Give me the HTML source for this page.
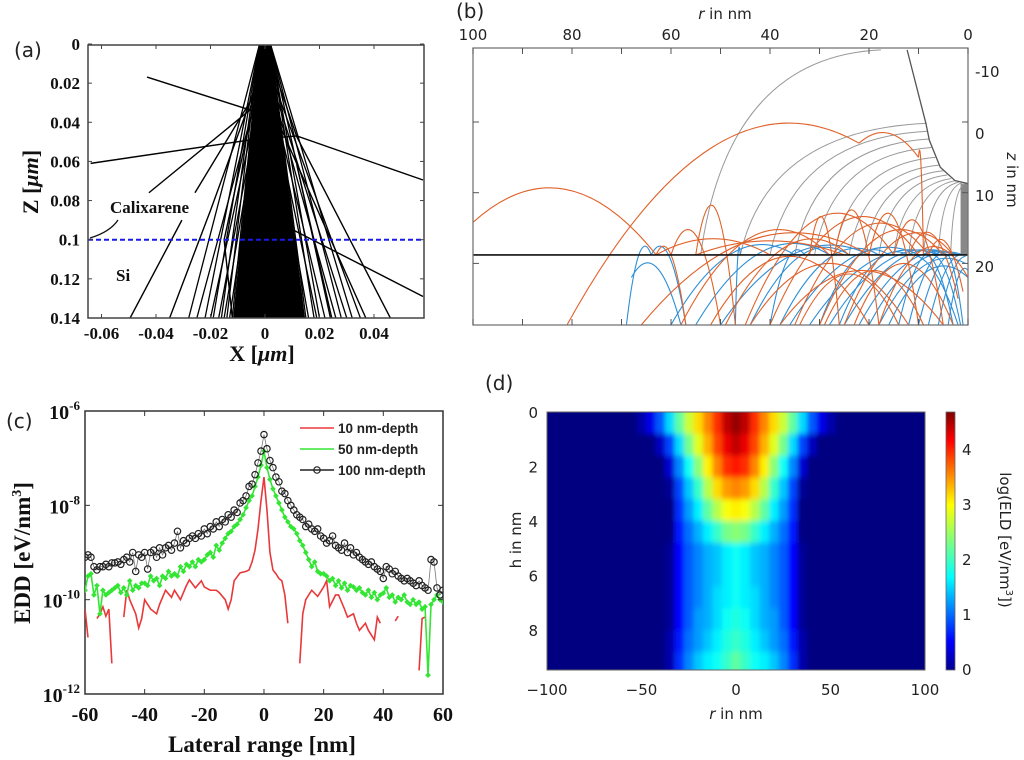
<!DOCTYPE html>
<html><head><meta charset="utf-8"><style>
html,body{margin:0;padding:0;background:#fff;}
svg{display:block;}
.serif{font-family:"Liberation Serif","DejaVu Serif",serif;font-weight:bold;}
.sans{font-family:"DejaVu Sans","Liberation Sans",sans-serif;}
</style></head><body>
<svg id="fig" width="1024" height="760" viewBox="0 0 1024 760" xmlns="http://www.w3.org/2000/svg">
<defs>
<clipPath id="clipA"><rect x="88" y="45" width="336" height="273"/></clipPath>
<clipPath id="clipB"><rect x="473" y="48" width="495" height="277"/></clipPath>
<clipPath id="clipC"><rect x="85" y="411" width="358" height="283"/></clipPath>
<clipPath id="clipD"><rect x="547" y="412" width="378" height="258"/></clipPath>
<filter id="blurD" x="-5%" y="-5%" width="110%" height="110%"><feGaussianBlur stdDeviation="2.5 3"/></filter>
<linearGradient id="jetGrad" x1="0" y1="1" x2="0" y2="0">
<stop offset="0" stop-color="#00008f"/><stop offset="0.11" stop-color="#0000ff"/><stop offset="0.36" stop-color="#00ffff"/><stop offset="0.5" stop-color="#7fff7f"/><stop offset="0.64" stop-color="#ffff00"/><stop offset="0.89" stop-color="#ff0000"/><stop offset="1" stop-color="#800000"/>
</linearGradient>
</defs>

<text x="14" y="57" class="sans" font-size="20" fill="#222">(a)</text>
<text x="456" y="18" class="sans" font-size="20" fill="#222">(b)</text>
<text x="6" y="428" class="sans" font-size="20" fill="#222">(c)</text>
<text x="485" y="390" class="sans" font-size="20" fill="#222">(d)</text>

<g id="panelA"></g>
<g id="panelB"></g>
<g id="panelC"></g>
<g id="panelD"></g>
</svg>
<script>
// ---------------- Panel A data ----------------
var aYTicks = [0, 0.02, 0.04, 0.06, 0.08, 0.1, 0.12, 0.14];
var aYTickLabels = ["0","0.02","0.04","0.06","0.08","0.1","0.12","0.14"];
var aXTicks = [-0.06, -0.04, -0.02, 0, 0.02, 0.04];
var aXTickLabels = ["-0.06","-0.04","-0.02","0","0.02","0.04"];
var aConeEnds = [-0.028,-0.025,-0.022,-0.02,-0.019,-0.017,-0.016,-0.015,-0.014,-0.013,-0.012,-0.011,-0.01,-0.009,-0.008,-0.007,-0.006,-0.005,-0.004,-0.003,-0.002,0,0.002,0.004,0.006,0.008,0.01,0.012,0.014,0.015,0.016,0.018,0.019,0.02,0.022,0.024,0.026,0.028,0.03,0.032,0.035];
var aStrayPaths = [
  [[-0.0433,0.0169],[-0.0055,0.0337],[0,0]],
  [[-0.064,0.061],[-0.0055,0.049],[0.0117,0.047],[0.058,0.0695]],
  [[0.058,0.129],[0.0103,0.095],[0,0]],
  [[-0.0495,0.14],[-0.0305,0.09]],
  [[-0.0426,0.076],[-0.0055,0.0337]],
  [[-0.0257,0.076],[-0.0044,0.027]],
  [[0.046,0.14],[0.0117,0.0475],[0,0]],
  [[0.037,0.14],[0.0007,0.027]],
  [[0.0245,0.14],[0.0117,0.062]],
  [[-0.035,0.14],[-0.02,0.085],[-0.003,0.02]],
  [[-0.012,0.14],[-0.015,0.1],[-0.004,0.03]]
];
var aInterface = 0.1;

// ---------------- Panel B data ----------------
var bRTicks = [100, 80, 60, 40, 20, 0];
var bZTicks = [0, 10, 20];
var bZTickLabels = ["-10","0","10","20"];
var bBowl = [[12.3,-10.2],[8.5,0.2],[7.8,2.6],[5.6,6.4],[2.6,8.3],[0,8.7]];
var bInterfaceZ = 18.8;
var bGreyStartR = [17.6, 8.5, 8.2, 7.9, 7.4, 6.6, 5.8, 5.0, 4.2, 3.4, 2.6, 1.9, 1.3, 0.7];
var bGreyStartZ = [-10.2, 0.2, 1.3, 2.4, 3.6, 5.0, 6.1, 6.9, 7.5, 8.0, 8.3, 8.5, 8.6, 8.7];
var bGreyEndR = [54, 46, 40, 35, 31, 27, 24, 21, 18, 15, 12, 9, 6, 3.5];
var bOrange = [
  [100,14.2,63,18.8,9.5],[81,28.7,22,3,3.5],[22,3,10,5,1.6],[10,5,9,18.8,6],
  [63,18.8,40,18.8,16.5],[55,18.8,25,18.8,16.8],[55,18.8,47,28.7,12.3],
  [66,28.7,20,18.8,16.5],[58,28.7,28,18.8,16],[45,28.7,15,18.8,13.5],
  [40,28.7,10,18.8,14],[35,28.7,8,18.8,15],[30,28.7,5,18.8,16],[25,28.7,3,18.8,16.5],
  [27,18.8,18,28.7,13],[20,18.8,10,28.7,13.5],[15,18.8,5,28.7,14.5],[12,18.8,2,25,16],
  [52,28.7,20,28.7,19],[44,28.7,12,28.7,20],[38,28.7,5,28.7,21],[60,18.8,50,28.7,16],
  [32,18.8,26,28.7,14],[18,28.7,0,22,18],[23,28.7,3,28.7,20],[63,18.8,57,28.7,18.8],
  [34,28.7,14,28.7,21.5],[29,28.7,9,28.7,21],[49,28.7,24,18.8,17.5],[8,18.8,1,24,17]
];
var bBlue = [
  [64,18.8,69,28.7,18.8],[64,18.8,57,28.7,18.8],[68,22,58,28.7,20.5],[60,28.7,35,18.8,18.5],
  [55,28.7,28,18.8,18.3],[50,28.7,20,18.8,18.6],[47,28.7,46,18.8,19],[40,28.7,33,18.8,19.5],
  [36,28.7,10,18.8,19],[32,28.7,6,18.8,19.5],[28,28.7,4,18.8,19.5],[25,28.7,3,18.8,19.5],
  [22,28.7,2,18.8,19.8],[20,28.7,1,18.8,20],[18,28.7,0.5,20,20.5],[16,28.7,0,22,21],
  [14,28.7,6,18.8,20],[12,28.7,4,18.8,20.5],[10,28.7,2,18.8,20.5],[8,28.7,1,18.8,21],
  [6,28.7,0.5,19,21.5],[4,28.7,0,21,22],[26,28.7,12,18.8,20],[30,28.7,16,18.8,19.5],
  [3,28.7,9,18.8,21],[1.5,28.7,7,18.8,21.5],[2,28.7,12,18.8,21],[1,28.7,4,18.8,22],
  [38,28.7,18,18.8,19.2],[44,28.7,24,18.8,19]
];

// ---------------- Panel C data ----------------
var cXTicks = [-60,-40,-20,0,20,40,60];
var cYExps = [-6,-8,-10,-12];
var cX0 = -60;
var cBlack = [-9.1,-9.05,-9.1,-9.3,-9.37,-9.3,-9.3,-9.25,-9.3,-9.22,
 -9.22,-9.2,-9.25,-9.15,-9.1,-9.2,-9.0,-9.4,-9.05,-9.1,
 -9.0,-9.35,-9.0,-8.95,-9.1,-8.9,-9.05,-8.9,-8.85,-8.95,
 -8.8,-8.55,-8.9,-8.75,-8.8,-8.7,-8.65,-8.7,-8.6,-8.65,
 -8.5,-8.6,-8.45,-8.5,-8.35,-8.45,-8.3,-8.35,-8.2,-8.25,
 -8.1,-8.15,-7.95,-7.9,-7.8,-7.6,-7.55,-7.35,-7.1,-6.85,
 -6.5,
 -6.8,-7.05,-7.2,-7.4,-7.5,-7.7,-7.75,-7.9,-8.0,-8.1,
 -8.2,-8.25,-8.3,-8.45,-8.4,-8.5,-8.55,-8.5,-8.65,-8.7,
 -8.8,-8.75,-8.65,-8.85,-8.9,-8.95,-8.8,-9.0,-8.9,-9.05,
 -9.0,-9.1,-9.15,-9.2,-9.25,-9.2,-9.3,-9.35,-9.4,-9.55,
 -9.3,-9.35,-9.45,-9.4,-9.5,-9.55,-9.6,-9.55,-9.6,-9.65,
 -9.7,-9.6,-9.7,-9.75,-9.8,-9.15,-9.2,-9.75,-9.9,-9.8];
var cGreen = [-9.8,-9.5,-9.45,-9.9,-9.7,-10.3,-9.8,-9.9,-9.85,-9.8,
 -9.75,-9.7,-9.85,-9.75,-9.9,-9.6,-9.8,-9.7,-9.75,-9.65,
 -9.65,-9.7,-9.5,-9.6,-9.55,-9.7,-9.5,-9.55,-9.4,-9.5,
 -9.45,-9.5,-9.3,-9.4,-9.25,-9.3,-9.2,-9.3,-9.15,-9.2,
 -9.15,-9.05,-9.0,-9.1,-8.85,-8.95,-8.8,-8.7,-8.6,-8.55,
 -8.45,-8.4,-8.3,-8.2,-8.05,-7.9,-7.8,-7.6,-7.4,-7.15,
 -6.85,
 -7.2,-7.45,-7.65,-7.8,-7.95,-8.1,-8.25,-8.35,-8.45,-8.5,
 -8.6,-8.75,-8.85,-9.0,-9.15,-9.3,-9.2,-9.4,-9.45,-9.45,
 -9.5,-9.6,-9.55,-9.7,-9.6,-9.75,-9.65,-9.8,-9.7,-9.73,
 -9.8,-9.75,-9.85,-9.9,-9.8,-9.95,-9.85,-10.0,-9.9,-9.86,
 -9.75,-9.95,-9.9,-10.05,-9.95,-10.0,-9.9,-10.05,-10.1,-10.0,
 -10.1,-10.05,-10.2,-10.15,-11.6,-10.1,-10.0,-9.9,-10.0,-10.05];
var cRedX = [-60,-59,-58,-56,-55,-54,-53,-52,-51,-50,-47,-46,-45,-44,-43,-42,-41,-40,-38,-36,-35,-33,-31,-30,-28,-26,-25,-23,-21,-20,-18,-16,-15,-13,-12,-11,-10,-8,-6,-5,-4,-3,-2,-1,0,1,2,3,4,5,6,7,8,9,10,12,13,14,16,18,20,21,22,24,25,27,28,30,31,32,34,35,37,38,39,40,44,45,46,52,53,54];
var cRedL = [-10.2,-10.8,null,-10.4,-10.3,-10.15,-10.35,-10.2,-11.35,null,-10.37,-9.8,-10.0,-10.15,-10.3,-10.6,-10.4,-10.0,-10.2,-10.3,-10.1,-9.8,-9.95,-9.8,-10.0,-9.7,-9.58,-9.75,-9.6,-9.73,-9.8,-9.8,-9.85,-10.0,-10.2,-10.0,-9.6,-9.43,-9.4,-9.37,-9.2,-8.95,-8.5,-7.9,-7.4,-8.1,-9.0,-9.37,-9.45,-9.55,-9.6,-9.9,-10.5,null,null,-11.35,-10.3,-10.0,-9.8,-9.93,-9.73,-9.6,-10.15,-9.9,-9.9,-10.2,-10.37,-10.3,-10.5,-10.65,-10.5,-10.65,-10.85,-10.37,-10.5,null,-10.45,-10.35,null,-11.5,-10.4,-10.37];
var cLegend = ["10 nm-depth","50 nm-depth","100 nm-depth"];

// ---------------- Panel D data ----------------
var dXTicks = [-100,-50,0,50,100];
var dYTicks = [0,2,4,6,8];
var dCbTicks = [0,1,2,3,4];
var dCols = [-50,-45,-40,-35,-30,-25,-20,-15,-10,-5,0,5,10,15,20,25,30,35,40,45,50];
var dRowTop = [0,0.8,1.6,2.4,3.2,4.0,4.8,5.6,6.4,7.2,8.0,8.8];
var dVals = [
 [0.2,0.5,1.0,1.6,2.2,2.7,3.1,3.5,3.9,4.4,4.6,4.4,3.9,3.5,3.1,2.7,2.2,1.6,1.0,0.5,0.2],
 [0,0,0.3,0.9,1.6,2.3,2.8,3.3,3.8,4.2,4.4,4.2,3.8,3.3,2.8,2.3,1.6,0.9,0.3,0,0],
 [0,0,0,0.4,1.2,1.8,2.4,3.0,3.5,3.9,4.0,3.9,3.5,3.0,2.4,1.8,1.2,0.4,0,0,0],
 [0,0,0,0.1,0.9,1.5,2.0,2.6,3.1,3.4,3.5,3.4,3.1,2.6,2.0,1.5,0.9,0.1,0,0,0],
 [0,0,0,0,0.8,1.3,1.7,2.2,2.6,2.9,3.0,2.9,2.6,2.2,1.7,1.3,0.8,0,0,0,0],
 [0,0,0,0,0.7,1.1,1.4,1.7,2.0,2.3,2.4,2.3,2.0,1.7,1.4,1.1,0.7,0,0,0,0],
 [0,0,0,0.1,0.6,1.0,1.2,1.4,1.5,1.7,1.8,1.7,1.5,1.4,1.2,1.0,0.6,0.1,0,0,0],
 [0,0,0,0.1,0.6,1.0,1.2,1.4,1.5,1.7,1.8,1.7,1.5,1.4,1.2,1.0,0.6,0.1,0,0,0],
 [0,0,0,0.1,0.6,1.0,1.2,1.4,1.6,1.7,1.8,1.7,1.6,1.4,1.2,1.0,0.6,0.1,0,0,0],
 [0,0,0,0.1,0.6,1.0,1.3,1.4,1.6,1.8,1.9,1.8,1.6,1.4,1.3,1.0,0.6,0.1,0,0,0],
 [0,0,0,0.2,0.7,1.1,1.3,1.5,1.7,1.9,2.0,1.9,1.7,1.5,1.3,1.1,0.7,0.2,0,0,0],
 [0,0,0,0.2,0.8,1.2,1.5,1.7,1.8,2.0,2.2,2.0,1.8,1.7,1.5,1.2,0.8,0.2,0,0,0]
];

var NS = "http://www.w3.org/2000/svg";
function mk(tag, parent, attrs){ var e=document.createElementNS(NS,tag); for(var k in attrs) e.setAttribute(k,attrs[k]); parent.appendChild(e); return e; }
function txt(parent, x, y, s, attrs){ var t=mk("text",parent,attrs); t.setAttribute("x",x); t.setAttribute("y",y); t.textContent=s; return t; }

// ================= PANEL A =================
(function(){
  var g=document.getElementById("panelA");
  function ax(x){return 265+x*2725;} function az(z){return 44+z*1957;}
  var L=88,R=424,T=45,B=318;
  var plot=mk("g",g,{"clip-path":"url(#clipA)"});
  
  
  var core=mk("polygon",plot,{points:[ax(-0.002)+","+az(0),ax(0.002)+","+az(0),ax(0.0147)+","+az(0.14),ax(-0.0117)+","+az(0.14)].join(" "),fill:"#000"});
  
  
  aConeEnds.forEach(function(e,i){
    var sx=(i%2?0.002:-0.002);
    var l=mk("line",plot,{x1:ax(sx),y1:az(0),x2:ax(e),y2:az(0.14),stroke:"#000","stroke-width":1.3});
    
    
  });
  aStrayPaths.forEach(function(p){
    var pl=mk("polyline",plot,{points:p.map(function(q){return ax(q[0])+","+az(q[1]);}).join(" "),fill:"none",stroke:"#000","stroke-width":1.4});
    
    
  });
  var dl=mk("line",g,{x1:L,x2:R,y1:az(aInterface),y2:az(aInterface),stroke:"#1a1ae6","stroke-width":2,"stroke-dasharray":"5 3"});
  
  
  var box=mk("rect",g,{x:L,y:T,width:R-L,height:B-T,fill:"none",stroke:"#444","stroke-width":1.5});
  
  
  aYTicks.forEach(function(v,i){
    var y=az(v);
    mk("line",g,{x1:L,x2:L+4,y1:y,y2:y,stroke:"#444"}); mk("line",g,{x1:R-4,x2:R,y1:y,y2:y,stroke:"#444"});
    var t=txt(g,80,y+6,aYTickLabels[i],{class:"serif","font-size":17,"text-anchor":"end",fill:"#111"});
    
    
  });
  aXTicks.forEach(function(v,i){
    var x=ax(v);
    mk("line",g,{x1:x,x2:x,y1:B,y2:B-4,stroke:"#444"}); mk("line",g,{x1:x,x2:x,y1:T,y2:T+4,stroke:"#444"});
    var t=txt(g,x,339,aXTickLabels[i],{class:"serif","font-size":17,"text-anchor":"middle",fill:"#111"});
    
    
  });
  var xt=txt(g,262,361,"",{class:"serif","font-size":22,"text-anchor":"middle",fill:"#111"});
  xt.innerHTML='X [<tspan font-style="italic">μm</tspan>]';
  
  
  var yt=txt(g,0,0,"",{class:"serif","font-size":22,"text-anchor":"middle",fill:"#111",transform:"translate(38,182) rotate(-90)"});
  yt.innerHTML='Z [<tspan font-style="italic">μm</tspan>]';
  
  
  var c1=txt(g,110,213,"Calixarene",{class:"serif","font-size":17,fill:"#111"});
  
  
  var c2=txt(g,116,281,"Si",{class:"serif","font-size":17,fill:"#111"});
  
  
  mk("path",g,{d:"M118,220 Q110,232 90,238",fill:"none",stroke:"#111","stroke-width":1.3});
})();

// ================= PANEL B =================
(function(){
  var g=document.getElementById("panelB");
  function br(r){return 968-r*4.95;} function bz(z){return 122+z*7.07;}
  var L=473,R=968,T=48,B=325;
  var plot=mk("g",g,{"clip-path":"url(#clipB)"});
  
  
  mk("rect",plot,{x:br(1.5),y:bz(8.7),width:br(0)-br(1.5),height:bz(bInterfaceZ)-bz(8.7),fill:"#888"});
  bGreyStartR.forEach(function(sr,i){
    var sz=bGreyStartZ[i], er=bGreyEndR[i];
    var p=mk("path",plot,{d:"M"+br(sr)+","+bz(sz)+" Q"+br(er*0.85+sr*0.15)+","+bz(sz+1)+" "+br(er)+","+bz(bInterfaceZ),fill:"none",stroke:"#999","stroke-width":1});
    
    
  });
  function arc(a,col){
    var cz=2*a[4]-(a[1]+a[3])/2;
    return mk("path",plot,{d:"M"+br(a[0])+","+bz(a[1])+" Q"+br((a[0]+a[2])/2)+","+bz(cz)+" "+br(a[2])+","+bz(a[3]),fill:"none",stroke:col,"stroke-width":1.1});
  }
  bBlue.forEach(function(a){ var p=arc(a,"#2f8fd6");
    
     });
  bOrange.forEach(function(a){ var p=arc(a,"#e0622a");
    
     });
  var bowl=mk("polyline",plot,{points:bBowl.map(function(q){return br(q[0])+","+bz(q[1]);}).join(" "),fill:"none",stroke:"#555","stroke-width":1.3});
  
  
  var il=mk("line",g,{x1:L,x2:R,y1:bz(bInterfaceZ),y2:bz(bInterfaceZ),stroke:"#111","stroke-width":1.6});
  
  
  var box=mk("rect",g,{x:L,y:T,width:R-L,height:B-T,fill:"none",stroke:"#777","stroke-width":1.3});
  
  
  for(var r=100;r>=0;r-=10){ var x=br(r);
    mk("line",g,{x1:x,x2:x,y1:T,y2:T+6,stroke:"#555"}); mk("line",g,{x1:x,x2:x,y1:B,y2:B-6,stroke:"#555"}); }
  bRTicks.forEach(function(v){
    var t=txt(g,br(v),40,String(v),{class:"sans","font-size":15,"text-anchor":"middle",fill:"#222"});
    
    
  });
  bZTicks.forEach(function(v){ var y=bz(v);
    mk("line",g,{x1:L,x2:L+6,y1:y,y2:y,stroke:"#555"}); mk("line",g,{x1:R-6,x2:R,y1:y,y2:y,stroke:"#555"}); });
  var zlY=[77,139,201,272];
  bZTickLabels.forEach(function(s,i){
    var t=txt(g,975,zlY[i],s,{class:"sans","font-size":15,fill:"#222"});
    
    
  });
  var rt=txt(g,725,19,"",{class:"sans","font-size":15,"text-anchor":"middle",fill:"#222"});
  rt.innerHTML='<tspan font-style="italic">r</tspan> in nm';
  
  
  var zt=txt(g,0,0,"",{class:"sans","font-size":15,"text-anchor":"middle",fill:"#222",transform:"translate(1007,180) rotate(90)"});
  zt.innerHTML='<tspan font-style="italic">z</tspan> in nm';
  
  
})();

// ================= PANEL C =================
(function(){
  var g=document.getElementById("panelC");
  function cx(x){return 85+(x+60)*2.983;} function cy(l){return 411+(-6-l)*47.17;}
  var L=85,R=443,T=411,B=694;
  var box=mk("rect",g,{x:L,y:T,width:R-L,height:B-T,fill:"none",stroke:"#333","stroke-width":1.5});
  
  
  var plot=mk("g",g,{"clip-path":"url(#clipC)"});
  var pts=cBlack.map(function(v,i){return cx(cX0+i)+","+cy(v);}).join(" ");
  var bl=mk("polyline",plot,{points:pts,fill:"none",stroke:"#777","stroke-width":0.8});
  
  
  var segs=[],cur=[];
  for(var i=0;i<cRedX.length;i++){ var v=cRedL[i];
    if(v===null||v===undefined){ if(cur.length) segs.push(cur); cur=[]; }
    else cur.push(cx(cRedX[i])+","+cy(v)); }
  if(cur.length) segs.push(cur);
  segs.forEach(function(s){
    var p=mk("polyline",plot,{points:s.join(" "),fill:"none",stroke:"#e8383a","stroke-width":1.6});
    
    
  });
  var gp=mk("polyline",plot,{points:cGreen.map(function(v,i){return cx(cX0+i)+","+cy(v);}).join(" "),fill:"none",stroke:"#33e633","stroke-width":1.6});
  
  
  cGreen.forEach(function(v,i){
    var x=cx(cX0+i),y=cy(v);
    var m=mk("rect",plot,{x:x-2,y:y-2,width:4,height:4,fill:"#33e633",transform:"rotate(45 "+x+" "+y+")"});
    
    
  });
  cBlack.forEach(function(v,i){
    var c=mk("circle",plot,{cx:cx(cX0+i),cy:cy(v),r:3.2,fill:"none",stroke:"#222","stroke-width":1.2});
    
    
  });
  cXTicks.forEach(function(v){
    var x=cx(v);
    mk("line",g,{x1:x,x2:x,y1:B,y2:B-5,stroke:"#333"}); mk("line",g,{x1:x,x2:x,y1:T,y2:T+5,stroke:"#333"});
    var t=txt(g,x,721,String(v),{class:"serif","font-size":20,"text-anchor":"middle",fill:"#111"});
    
    
  });
  cYExps.forEach(function(e){
    var y=cy(e);
    mk("line",g,{x1:L,x2:L+5,y1:y,y2:y,stroke:"#333"}); mk("line",g,{x1:R-5,x2:R,y1:y,y2:y,stroke:"#333"});
    var t=txt(g,80,y+8,"",{class:"serif","font-size":20,"text-anchor":"end",fill:"#111"});
    t.innerHTML='10<tspan font-size="13" dy="-9">'+e+'</tspan>';
    
    
  });
  var xt=txt(g,262,752,"Lateral range [nm]",{class:"serif","font-size":23,"text-anchor":"middle",fill:"#111"});
  
  
  var yt=txt(g,0,0,"",{class:"serif","font-size":23,"text-anchor":"middle",fill:"#111",transform:"translate(30,553) rotate(-90)"});
  yt.innerHTML='EDD [eV/nm<tspan font-size="14" dy="-9">3</tspan><tspan dy="9">]</tspan>';
  
  
  var lg=mk("g",g,{});
  
  
  var cols=["#e8383a","#33e633","#222"];
  cLegend.forEach(function(s,i){
    var y=428+i*21;
    mk("line",lg,{x1:300,x2:334,y1:y,y2:y,stroke:cols[i],"stroke-width":1.6});
    if(i===2) mk("circle",lg,{cx:317,cy:y,r:3.2,fill:"none",stroke:"#222","stroke-width":1.2});
    var t=txt(lg,338,y+5,s,{"font-family":"Liberation Sans, sans-serif","font-weight":"bold","font-size":13.5,fill:"#222"});
    
    
  });
})();

// ================= PANEL D =================
(function(){
  var g=document.getElementById("panelD");
  function dx(r){return 547+(r+100)*1.89;} function dy(h){return 412+h*27.25;}
  function jet(v){ var t=Math.max(0,Math.min(1,v/4.7));
    function c(x){return Math.round(255*Math.max(0,Math.min(1,x)));}
    var r=1.5-Math.abs(4*t-3), gg=1.5-Math.abs(4*t-2), b=1.5-Math.abs(4*t-1);
    return "rgb("+c(r)+","+c(gg)+","+c(b)+")"; }
  var clip=mk("g",g,{"clip-path":"url(#clipD)"});
  var bg=mk("rect",clip,{x:547,y:412,width:378,height:258,fill:jet(0)});
  
  
  var hm=mk("g",clip,{filter:"url(#blurD)"});
  
  
  dVals.forEach(function(row,i){
    var h0=dRowTop[i], h1=(i+1<dRowTop.length?dRowTop[i+1]:9.6);
    row.forEach(function(v,j){
      var r=dCols[j];
      var cell=mk("rect",hm,{x:dx(r-2.5),y:dy(h0)-(i===0?8:0),width:dx(r+2.5)-dx(r-2.5)+0.5,height:dy(h1)-dy(h0)+(i===0?8:0)+(i===dVals.length-1?8:0.5),fill:jet(v)});
      
      
    });
  });
  var frame=mk("rect",g,{x:547,y:412,width:378,height:258,fill:"none",stroke:"#666","stroke-width":1});
  
  
  dXTicks.forEach(function(v){
    var t=txt(g,dx(v),695,String(v).replace("-","−"),{class:"sans","font-size":15,"text-anchor":"middle",fill:"#222"});
    
    
  });
  dYTicks.forEach(function(v){
    var t=txt(g,538,dy(v)+6,String(v),{class:"sans","font-size":15,"text-anchor":"end",fill:"#222"});
    
    
  });
  var xt=txt(g,736,719,"",{class:"sans","font-size":15,"text-anchor":"middle",fill:"#222"});
  xt.innerHTML='<tspan font-style="italic">r</tspan> in nm';
  
  
  var yt=txt(g,0,0,"h in nm",{class:"sans","font-size":15,"text-anchor":"middle",fill:"#222",transform:"translate(521,540) rotate(-90)"});
  
  
  var cb=mk("rect",g,{x:946,y:412,width:9,height:258,fill:"url(#jetGrad)",stroke:"#666","stroke-width":0.8});
  
  
  dCbTicks.forEach(function(v){
    var y=670-v*55;
    var t=txt(g,962,y+5,String(v),{class:"sans","font-size":15,fill:"#222"});
    
    
  });
  var ct=txt(g,0,0,"",{class:"sans","font-size":15,"text-anchor":"middle",fill:"#222",transform:"translate(1000,540) rotate(90)"});
  ct.innerHTML='log(ELD [eV/nm<tspan font-size="10" dy="-6">3</tspan><tspan dy="6">])</tspan>';
  
  
})();
</script>
</body></html>
